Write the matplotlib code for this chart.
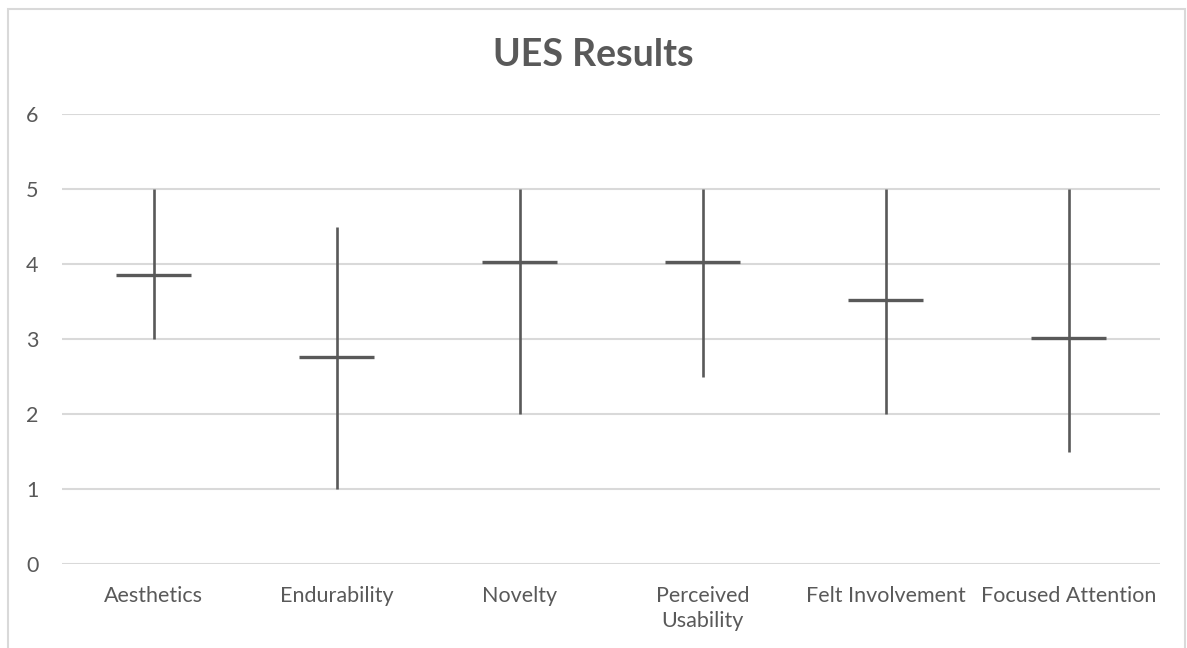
import matplotlib
matplotlib.use("Agg")
import matplotlib.pyplot as plt
from matplotlib.patches import Rectangle

categories = ["Aesthetics", "Endurability", "Novelty", "Perceived\nUsability",
              "Felt Involvement", "Focused Attention"]
high_values = [5.0, 4.5, 5.0, 5.0, 5.0, 5.0]
low_values = [3.0, 1.0, 2.0, 2.5, 2.0, 1.5]
mean_values = [3.86, 2.76, 4.03, 4.03, 3.52, 3.02]
y_ticks = [0, 1, 2, 3, 4, 5, 6]

TEXT = "#595959"
LINE = "#595959"
GRID = "#d9d9d9"

plt.rcParams["font.family"] = ["Lato", "DejaVu Sans"]

fig = plt.figure(figsize=(11.87, 6.48), dpi=100)
ax = fig.add_axes([62 / 1187, 1 - 564 / 648, (1160 - 62) / 1187, (564 - 114) / 648])

x = list(range(len(categories)))
ax.vlines(x, low_values, high_values, color=LINE, linewidth=1.9, zorder=3)
ax.hlines(mean_values, [i - 0.205 for i in x], [i + 0.205 for i in x],
          color=LINE, linewidth=2.4, zorder=3)

ax.set_xlim(-0.5, len(categories) - 0.5)
ax.set_ylim(0, 6)
ax.set_yticks(y_ticks)
ax.set_xticks(x)
ax.set_xticklabels(categories, linespacing=1.3)
ax.tick_params(axis="both", length=0, colors=TEXT, labelsize=15.5)
ax.tick_params(axis="x", pad=16)
ax.tick_params(axis="y", pad=17)
ax.yaxis.grid(True, color=GRID, linewidth=1.5)
ax.set_axisbelow(True)
for side in ["top", "right", "left", "bottom"]:
    ax.spines[side].set_visible(False)
ax.axhline(0, color=GRID, linewidth=1.8, zorder=1)

fig.text(0.5, 1 - 55 / 648, "UES Results", ha="center", va="center",
         fontsize=27, fontweight="bold", color=TEXT)

fig.patches.append(Rectangle((8 / 1187, -0.01), (1185 - 8) / 1187, 1 - 9 / 648 + 0.01,
                             transform=fig.transFigure, fill=False,
                             edgecolor=GRID, linewidth=1.5))

fig.savefig("out.png", dpi=100)
